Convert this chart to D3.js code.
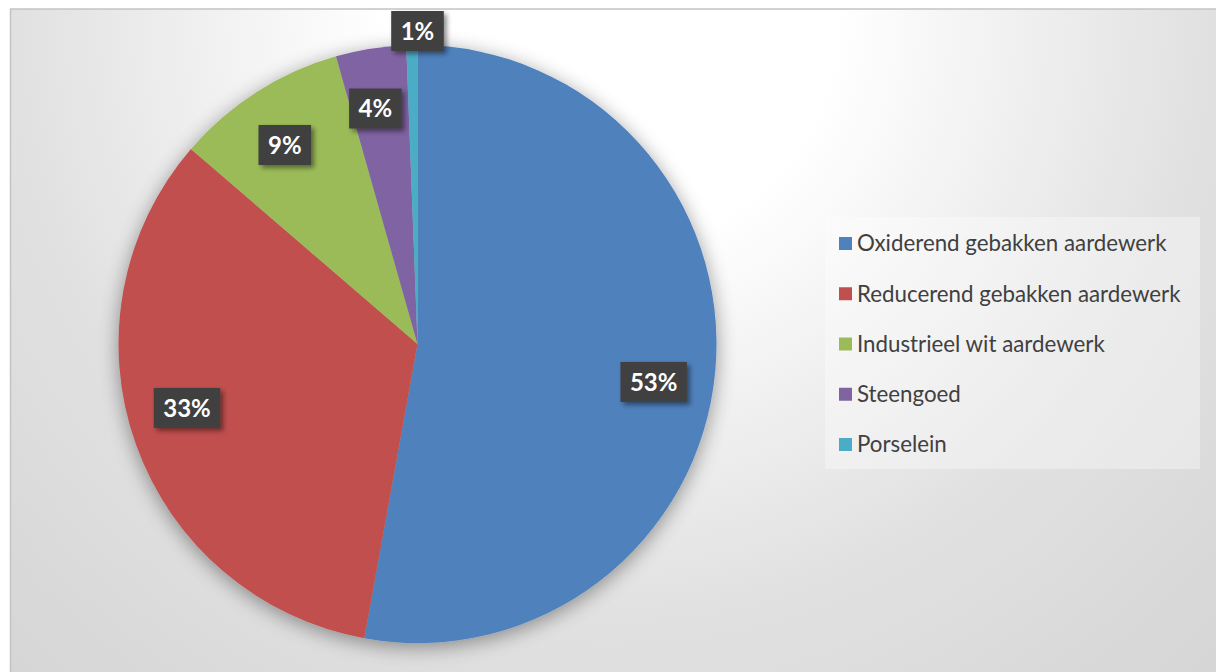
<!DOCTYPE html>
<html><head><meta charset="utf-8">
<script src="https://cdn.jsdelivr.net/npm/d3@7"></script>
<style>html,body{margin:0;padding:0;background:#fff;}svg{display:block;}</style>
</head><body>
<svg id="chart" width="1216" height="672"></svg>
<script>
const categories = ["Oxiderend gebakken aardewerk","Reducerend gebakken aardewerk","Industrieel wit aardewerk","Steengoed","Porselein"];
const values = [52.9, 33.5, 9.3, 3.8, 0.6];
const colors = ["#4f81bd","#c0504d","#9bbb59","#8064a2","#4bacc6"];

const W = 1216, H = 672;
const svg = d3.select("#chart");
const defs = svg.append("defs");

const bg = defs.append("radialGradient").attr("id","bg").attr("gradientUnits","userSpaceOnUse")
  .attr("cx",610).attr("cy",20).attr("r",900);
bg.append("stop").attr("offset",0).attr("stop-color","#ffffff");
bg.append("stop").attr("offset",0.25).attr("stop-color","#ffffff");
bg.append("stop").attr("offset",0.66).attr("stop-color","#e1e1e1");
bg.append("stop").attr("offset",1).attr("stop-color","#d5d5d5");

const sh = defs.append("filter").attr("id","pieShadow").attr("x","-20%").attr("y","-20%").attr("width","140%").attr("height","140%");
sh.append("feGaussianBlur").attr("in","SourceAlpha").attr("stdDeviation",10).attr("result","b");
sh.append("feOffset").attr("in","b").attr("dx",0).attr("dy",4).attr("result","o");
sh.append("feComponentTransfer").attr("in","o").attr("result","t").append("feFuncA").attr("type","linear").attr("slope",0.4);
const m1 = sh.append("feMerge"); m1.append("feMergeNode").attr("in","t"); m1.append("feMergeNode").attr("in","SourceGraphic");

const lsh = defs.append("filter").attr("id","lblShadow").attr("x","-30%").attr("y","-30%").attr("width","170%").attr("height","170%");
lsh.append("feGaussianBlur").attr("in","SourceAlpha").attr("stdDeviation",2.5).attr("result","b");
lsh.append("feOffset").attr("in","b").attr("dx",3).attr("dy",3).attr("result","o");
lsh.append("feComponentTransfer").attr("in","o").attr("result","t").append("feFuncA").attr("type","linear").attr("slope",0.45);
const m2 = lsh.append("feMerge"); m2.append("feMergeNode").attr("in","t"); m2.append("feMergeNode").attr("in","SourceGraphic");

// background & border
svg.append("rect").attr("x",10.5).attr("y",9).attr("width",W).attr("height",H).attr("fill","url(#bg)")
  .attr("stroke","#c4c4c4").attr("stroke-width",1.5);

const cx = 417.5, cy = 344, R = 299;
const total = d3.sum(values);
const data = categories.map((c,i)=>({name:c, value:values[i], color:colors[i]}));
const pie = d3.pie().value(d=>d.value).sort(null);
const arcs = pie(data);
const arc = d3.arc().innerRadius(0).outerRadius(R);

const g = svg.append("g").attr("transform",`translate(${cx},${cy})`);
g.append("g").attr("filter","url(#pieShadow)")
  .selectAll("path").data(arcs).join("path")
  .attr("d",arc).attr("fill",d=>d.data.color);

// labels (best-fit style: inside at 0.8R, tiny slices outside above their edge)
const fmt = v => Math.round(v/total*100) + "%";
const lbl = g.append("g").selectAll("g").data(arcs).join("g")
  .attr("transform", d => {
    const frac = (d.endAngle - d.startAngle)/(2*Math.PI);
    let a = (d.startAngle + d.endAngle)/2, r = R*0.8;
    if (frac < 0.02) { a = d.endAngle; r = R + 14; }
    else if (frac > 0.2) { a += 0.07; }
    else { a -= 0.02; }
    return `translate(${r*Math.sin(a)},${-r*Math.cos(a)})`;
  });
lbl.each(function(d){
  const gg = d3.select(this);
  const rect = gg.append("rect").attr("fill","#404040").attr("filter","url(#lblShadow)");
  const t = gg.append("text").text(fmt(d.value))
    .attr("text-anchor","middle").attr("dy","0.36em")
    .attr("font-family","Lato, 'Open Sans', sans-serif").attr("font-weight","bold")
    .attr("font-size",24).attr("fill","#ffffff");
  const w = t.node().getComputedTextLength() + 19, h = 40;
  rect.attr("x",-w/2).attr("y",-h/2).attr("width",w).attr("height",h);
});

// legend
const lx = 825, ly = 217, lw = 375, lh = 252;
const leg = svg.append("g");
leg.append("rect").attr("x",lx).attr("y",ly).attr("width",lw).attr("height",lh).attr("fill","#ffffff").attr("fill-opacity",0.35);
const rowY = d3.scalePoint().domain(categories).range([243.5, 444.5]);
const items = leg.selectAll("g.item").data(data).join("g").attr("class","item")
  .attr("transform", d => `translate(839,${rowY(d.name)})`);
items.append("rect").attr("x",0).attr("y",-6.5).attr("width",13).attr("height",13).attr("fill",d=>d.color);
items.append("text").attr("x",18).attr("dy","0.35em").text(d=>d.name)
  .attr("font-family","Lato, 'Open Sans', sans-serif").attr("font-size",22.3).attr("fill","#404040");
</script>
</body></html>
